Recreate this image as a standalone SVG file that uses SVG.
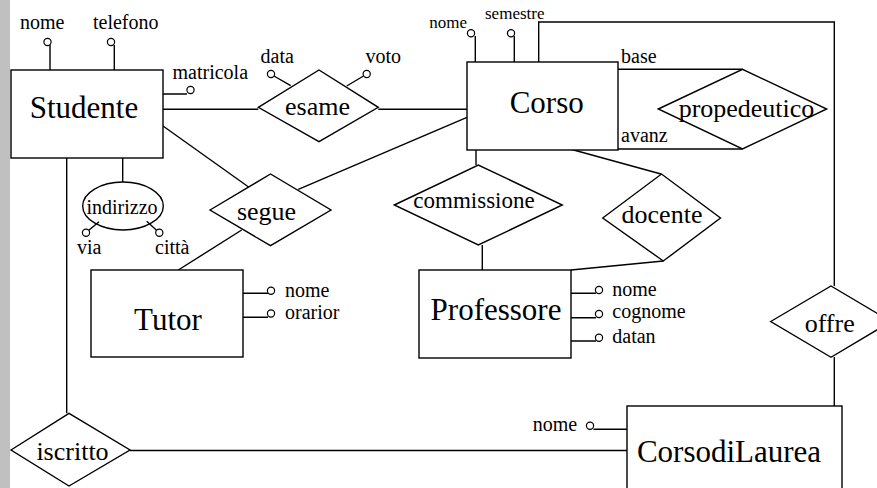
<svg xmlns="http://www.w3.org/2000/svg" width="877" height="488" viewBox="0 0 877 488">
<style>
.s{fill:none;stroke:#000;stroke-width:1.4}
.e{fill:#fff;stroke:#000;stroke-width:1.4}
.a{fill:#fff;stroke:#000;stroke-width:1.2}
text{font-family:"Liberation Serif","Times New Roman",serif;fill:#000}
.big{font-size:31px;text-anchor:middle}
.rel{font-size:26px;text-anchor:middle}
.lab{font-size:20px}
.sm{font-size:17px}
</style>
<rect x="0" y="0" width="877" height="488" fill="#fff"/>
<rect x="0" y="0" width="10" height="488" fill="#c0c0c0"/>
<g id="connectors">
<path class="s" d="M163,109.3H258.3"/>
<path class="s" d="M378.3,109.3H467"/>
<path class="s" d="M163,126L250,188"/>
<path class="s" d="M467,117.3L298.3,189.3"/>
<path class="s" d="M241.7,230L178.3,270"/>
<path class="s" d="M122.7,158V182"/>
<path class="s" d="M66.7,158V413.3"/>
<path class="s" d="M130,450.5H627"/>
<path class="s" d="M618,69.3H742.5"/>
<path class="s" d="M618,149H742.5"/>
<path class="s" d="M538.7,62V22H834.3V286"/>
<path class="s" d="M834.3,357V406"/>
<path class="s" d="M476,150V165"/>
<path class="s" d="M482.3,245V270"/>
<path class="s" d="M570,149L661,174"/>
<path class="s" d="M663.3,261L571,270"/>
</g>
<g id="Studente">
<rect class="e" x="11" y="70" width="152" height="88"/>
<text class="big" x="84" y="118">Studente</text>
<path class="s" d="M50,45V70M114.3,45V70M163,94H187"/>
<circle class="a" cx="47.5" cy="42" r="3.6"/>
<circle class="a" cx="111" cy="42" r="3.6"/>
<circle class="a" cx="190.5" cy="90" r="3.6"/>
<text class="lab" x="20" y="29">nome</text>
<text class="lab" x="93" y="29">telefono</text>
<text class="lab" x="172.5" y="79">matricola</text>
</g>
<g id="indirizzo">
<ellipse class="e" cx="123" cy="206" rx="40.3" ry="24"/>
<text class="lab" x="122" y="214" text-anchor="middle">indirizzo</text>
<path class="s" d="M88.5,230.5L99,221.7M156.8,230.5L146.7,221.3"/>
<circle class="a" cx="86" cy="232.7" r="3.6"/>
<circle class="a" cx="159.3" cy="232.7" r="3.6"/>
<text class="lab" x="77" y="254">via</text>
<text class="lab" x="155" y="254">città</text>
</g>
<g id="esame">
<polygon class="e" points="258.3,107.3 319,70 378.3,107.3 319,141.7"/>
<text class="rel" x="317.5" y="115">esame</text>
<path class="s" d="M274,76L290.7,85.7M363.5,76L346.7,86"/>
<circle class="a" cx="271" cy="74" r="3.6"/>
<circle class="a" cx="366.7" cy="74" r="3.6"/>
<text class="lab" x="260.5" y="62.7">data</text>
<text class="lab" x="365.5" y="62.7">voto</text>
</g>
<g id="Corso">
<rect class="e" x="467" y="62" width="151" height="88"/>
<text class="big" x="546.7" y="112.7">Corso</text>
<path class="s" d="M475.3,36V62M514.3,36V62"/>
<circle class="a" cx="471" cy="33.3" r="3.6"/>
<circle class="a" cx="511" cy="33.3" r="3.6"/>
<text class="sm" x="429.3" y="28.3">nome</text>
<text class="sm" x="485" y="19">semestre</text>
</g>
<g id="propedeutico">
<polygon class="e" points="658.3,109 742.5,69.3 826.7,109 742.5,149"/>
<text class="rel" x="746.5" y="117">propedeutico</text>
<text class="lab" x="621" y="62.7">base</text>
<text class="lab" x="621" y="141.7">avanz</text>
</g>
<g id="segue">
<polygon class="e" points="210,210 270.5,174 331,210 270.5,245.7"/>
<text class="rel" x="266.5" y="220">segue</text>
</g>
<g id="Tutor">
<rect class="e" x="91" y="270" width="152" height="87"/>
<text class="big" x="168" y="330">Tutor</text>
<path class="s" d="M243,293.3H268M243,317.3H268"/>
<circle class="a" cx="271" cy="290.7" r="3.6"/>
<circle class="a" cx="271" cy="313.5" r="3.6"/>
<text class="lab" x="285" y="297">nome</text>
<text class="lab" x="285" y="318.5">orarior</text>
</g>
<g id="commissione">
<polygon class="e" points="394.3,205 478.3,165 562.3,205 478.3,245"/>
<text class="lab" x="474" y="208.3" text-anchor="middle" style="font-size:23px">commissione</text>
</g>
<g id="docente">
<polygon class="e" points="602.7,218 661.5,174 720.5,218 663.3,261"/>
<text class="rel" x="662" y="223.3">docente</text>
</g>
<g id="Professore">
<rect class="e" x="419" y="270" width="152" height="88"/>
<text class="big" x="496" y="320">Professore</text>
<path class="s" d="M571,293.3H596M571,317.7H596M571,341H596"/>
<circle class="a" cx="599" cy="290" r="3.6"/>
<circle class="a" cx="599" cy="314" r="3.6"/>
<circle class="a" cx="599" cy="337.7" r="3.6"/>
<text class="lab" x="612.3" y="296">nome</text>
<text class="lab" x="612.3" y="318">cognome</text>
<text class="lab" x="612.3" y="343">datan</text>
</g>
<g id="offre">
<polygon class="e" points="770.7,321.5 831,286 891,321.5 831,357.3"/>
<text class="rel" x="829.7" y="331.7">offre</text>
</g>
<g id="iscritto">
<polygon class="e" points="11,450 69,413.3 130,450 69,486"/>
<text class="rel" x="72.5" y="460">iscritto</text>
</g>
<g id="CorsodiLaurea">
<rect class="e" x="627" y="406" width="215" height="100"/>
<text class="big" x="729" y="461.7">CorsodiLaurea</text>
<path class="s" d="M593.5,429.3H627"/>
<circle class="a" cx="590" cy="425.7" r="3.6"/>
<text class="lab" x="532.7" y="430.7">nome</text>
</g>
</svg>
